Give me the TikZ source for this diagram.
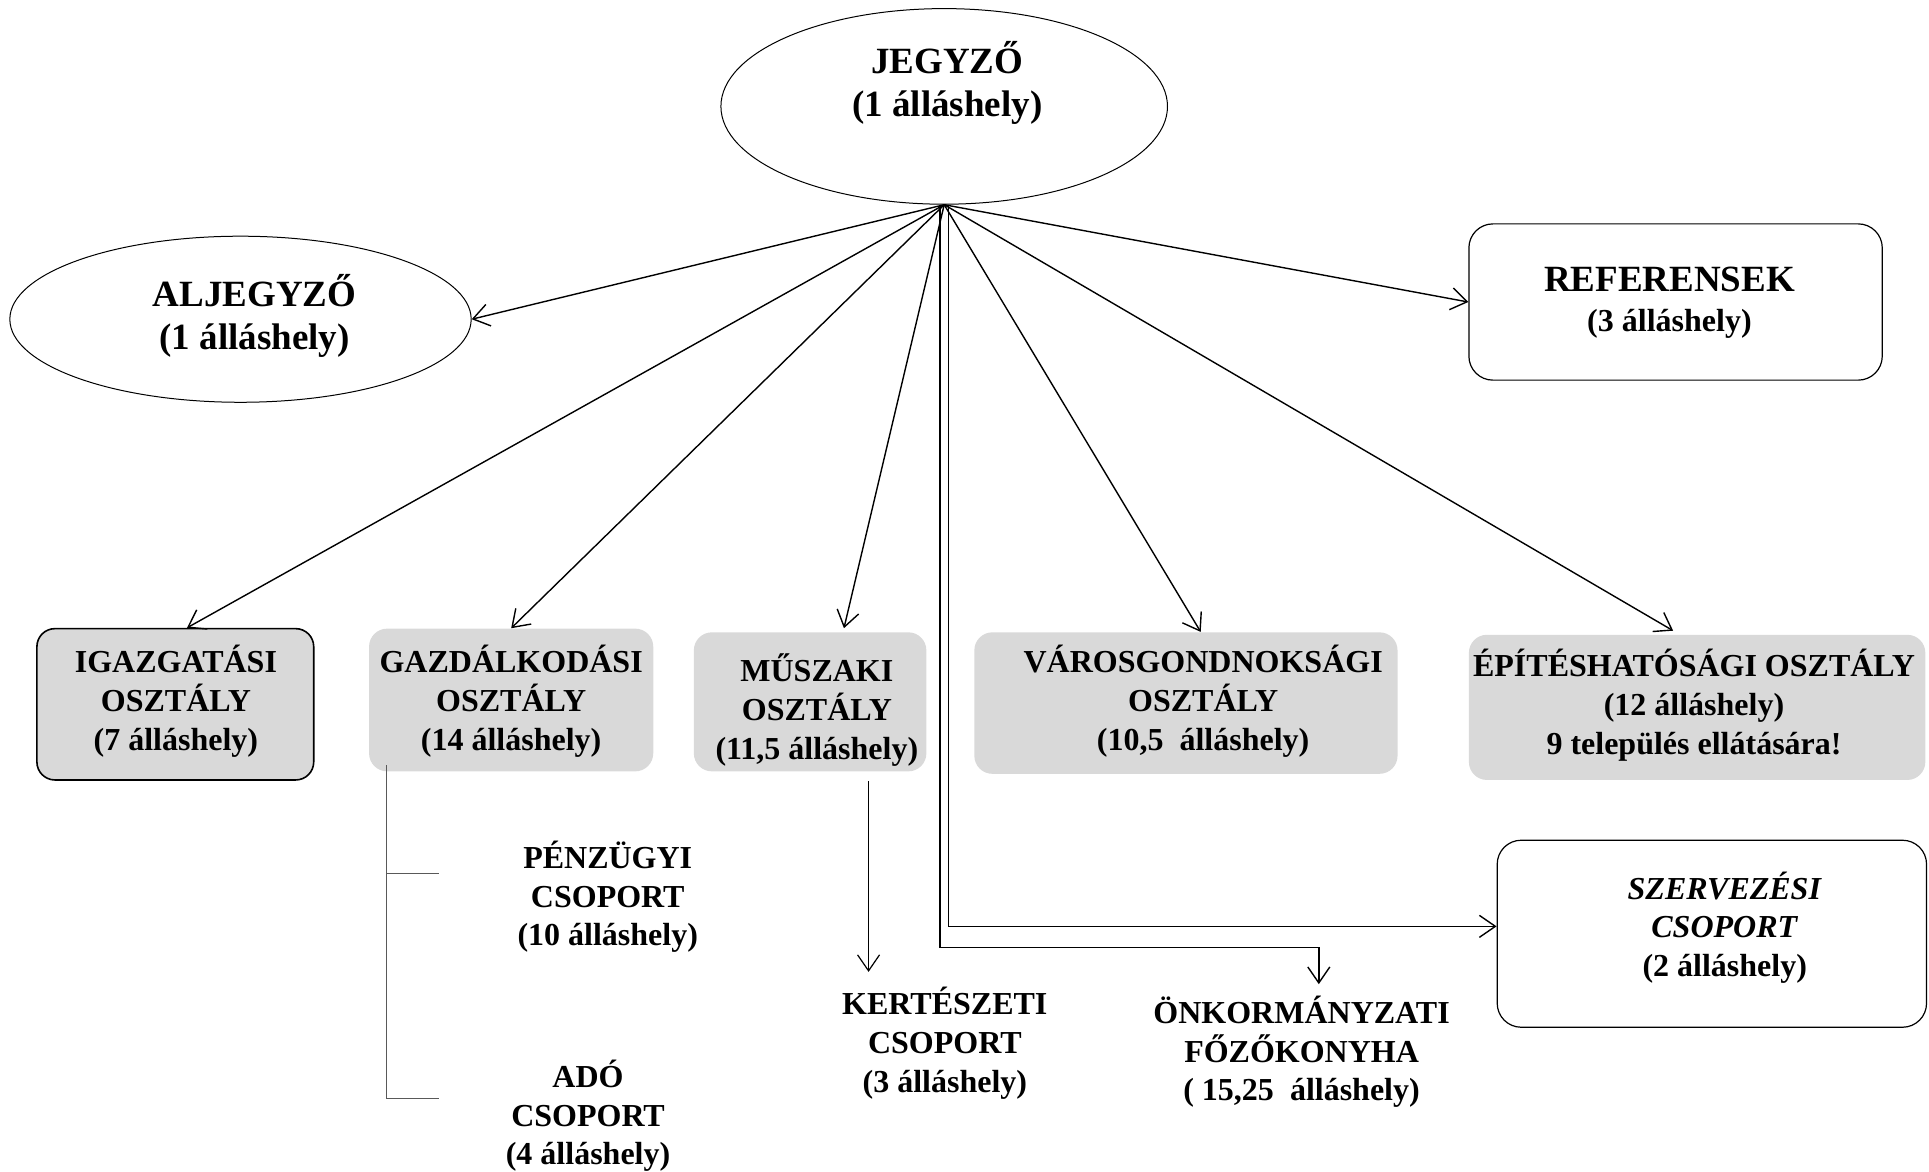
\documentclass[tikz,border=0pt]{standalone}
\usepackage{fontspec}
\setmainfont{Liberation Serif}
\usetikzlibrary{arrows.meta,fit,calc,shapes.geometric}
\definecolor{boxgray}{RGB}{217,217,217}
\newcommand\pxu{0.6151pt}
\begin{document}
\begin{tikzpicture}[x=0.6151pt,y=-0.6151pt,
  big/.style={font=\bfseries\fontsize{18.5}{21.5}\selectfont, align=center, inner sep=0},
  txt/.style={font=\bfseries\fontsize{16}{19.4}\selectfont, align=center, inner sep=0},
  dept/.style={rounded corners=9pt, fill=boxgray, inner sep=0},
  wbox/.style={rounded corners=12pt, draw, line width=0.6pt, inner sep=0},
  conn/.style={line width=0.7pt, -{Straight Barb[length=8pt,width=11pt]}},
  bracket/.style={draw=black!65, line width=0.6pt},
]
\useasboundingbox (0,0) rectangle (1568,952);

% top ellipses
\node[ellipse, draw, line width=0.5pt, minimum width=363*\pxu, minimum height=159*\pxu, inner sep=0] (jegell) at (767.5,86.5) {};
\node[big] (jeg) at (770,67.5) {JEGYZŐ\\(1 álláshely)};
\node[ellipse, draw, line width=0.5pt, minimum width=375*\pxu, minimum height=135*\pxu, inner sep=0] (aljell) at (195.5,259.5) {};
\node[big] (alj) at (207,256.5) {ALJEGYZŐ\\(1 álláshely)};

\node[wbox, fit={(1194,182) (1530,309)}] (refbox) {};
\node[align=center, inner sep=0, font=\bfseries\fontsize{16}{20.3}\selectfont] (ref) at (1357,246) {{\fontsize{18.5}{20.3}\selectfont REFERENSEK}\\(3 álláshely)};

% department boxes
\node[dept, draw, line width=0.8pt, fit={(30,511) (255,634)}] (igazbox) {};
\node[dept, fit={(300,511) (531,627)}] (gazdbox) {};
\node[dept, fit={(564,514) (753,627)}] (muszbox) {};
\node[dept, fit={(792,514) (1136,629)}] (varosbox) {};
\node[dept, fit={(1194,516) (1565,634)}] (epitbox) {};
\node[wbox, fit={(1217,683) (1566,835)}] (szervbox) {};

\node[txt] (igaz) at (143,570) {IGAZGATÁSI\\OSZTÁLY\\(7 álláshely)};
\node[txt] (gazd) at (415.5,570) {GAZDÁLKODÁSI\\OSZTÁLY\\(14 álláshely)};
\node[txt] (musz) at (664,577) {MŰSZAKI\\OSZTÁLY\\(11,5 álláshely)};
\node[txt] (varos) at (978,570) {VÁROSGONDNOKSÁGI\\OSZTÁLY\\(10,5\ \ álláshely)};
\node[txt] (epit) at (1377,573) {ÉPÍTÉSHATÓSÁGI OSZTÁLY\\(12 álláshely)\\9 település ellátására!};
\node[txt] (szerv) at (1402,754) {\textit{SZERVEZÉSI}\\\textit{CSOPORT}\\(2 álláshely)};
\node[txt] (penz) at (494,729) {PÉNZÜGYI\\CSOPORT\\(10 álláshely)};
\node[txt] (ado) at (478,907) {ADÓ\\CSOPORT\\(4 álláshely)};
\node[txt] (kert) at (768,848) {KERTÉSZETI\\CSOPORT\\(3 álláshely)};
\node[txt] (onk) at (1058,855) {ÖNKORMÁNYZATI\\FŐZŐKONYHA\\(\ 15,25\ \ álláshely)};

% connectors
\coordinate (hub) at (jegell.south);
\draw[conn] (hub) -- (aljell.east);
\draw[conn] (hub) -- (refbox.west);
\draw[conn] (hub) -- ($(igazbox.north)+(9.5,0)$);
\draw[conn] (hub) -- (gazdbox.north);
\draw[conn] (hub) -- ($(muszbox.north)+(27.5,-3)$);
\draw[conn] (hub) -- ($(varosbox.north)+(12,0)$);
\draw[conn] (hub) -- ($(epitbox.north)+(-19.5,-3)$);

\draw[conn] ($(hub)+(3.5,0)$) |- ($(szervbox.west)+(0,-6)$);
\coordinate (onkin) at (1072,800);
\draw[conn] ($(hub)+(-3.5,0)$) |- (onkin |- 0,770) -- (onkin);

\coordinate (mkstart) at (706,635);
\coordinate (mkend) at (706,790);
\draw[conn, line width=0.6pt] (mkstart) -- (mkend);

\coordinate (brtop) at (314,622);
\coordinate (brmid) at (314,710);
\coordinate (brbot) at (314,893);
\draw[bracket] (brtop) -- (brbot) -- ++(43,0);
\draw[bracket] (brmid) -- ++(43,0);
\end{tikzpicture}
\end{document}
